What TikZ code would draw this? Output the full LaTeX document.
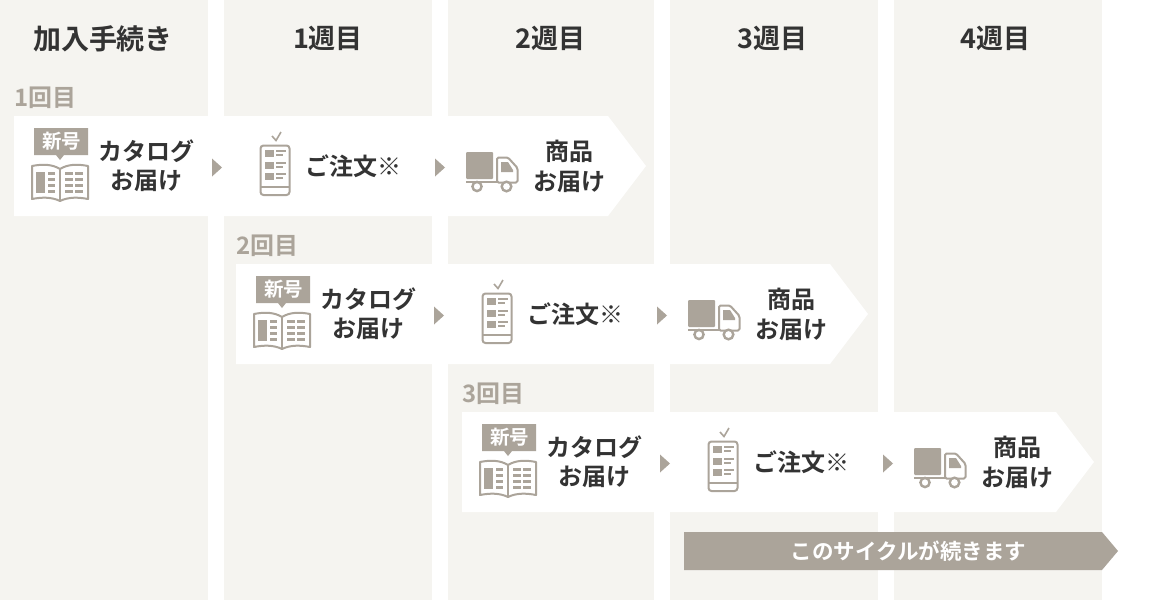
\documentclass[tikz,border=0pt]{standalone}
\usepackage{fontspec}
\setmainfont{Noto Sans CJK JP}[BoldFont={Noto Sans CJK JP Bold}]
\definecolor{colbg}{HTML}{F5F4F0}
\definecolor{taupe}{HTML}{ABA49A}
\definecolor{ink}{HTML}{333333}
\tikzset{
  x=1pt,y=-1pt,
  colhead/.style={font=\fontsize{27}{30}\selectfont\bfseries,text=ink,inner sep=0pt},
  lbl/.style={font=\fontsize{24}{30}\selectfont\bfseries,text=ink,inner sep=0pt,align=center},
  roundlbl/.style={font=\fontsize{24}{26}\selectfont\bfseries,text=taupe,inner sep=0pt},
  tagtext/.style={font=\fontsize{19.5}{20}\selectfont\bfseries,text=white,inner sep=0pt},
  icon/.style={draw=taupe,line width=2pt,fill=white},
  thin line/.style={draw=taupe,line width=2pt},
}
\tikzset{
  stage/.pic={
    % white arrow band, local origin = band left top
    \fill[white] (0,0) -- (594,0) -- (632,50) -- (594,100) -- (0,100) -- cycle;
    % tag
    \fill[taupe] (20,12) -- (74,12) -- (74,39) -- (50,39) -- (46,44) -- (42,39) -- (20,39) -- cycle;
    \node[tagtext] at (47.5,25.5) {新号};
    % book
    \draw[icon,line join=round] (46,53) .. controls (38,48) and (28,48) .. (18,50) -- (18,83) .. controls (28,81) and (38,81) .. (46,85)
       .. controls (54,81) and (64,81) .. (74,83) -- (74,50) .. controls (64,48) and (54,48) .. (46,53) -- cycle;
    \draw[thin line] (46,53) -- (46,85);
    \fill[taupe] (22,56) rectangle (31,77);
    \foreach \yy in {56,62,68,74}{\fill[taupe] (34,\yy) rectangle (41,\yy+2.6);}
    \foreach \yy in {56,62,68,74}{\fill[taupe] (51,\yy) rectangle (59,\yy+3.4);\fill[taupe] (61,\yy) rectangle (69,\yy+2.6);}
    \node[lbl] at (132,49.5) {カタログ\\[-0.5pt]お届け};
    % marker 1
    \fill[taupe] (198,42.5) -- (208,51.5) -- (198,60.5) -- cycle;
    % phone
    \draw[icon,rounded corners=3pt] (246.5,29.5) rectangle (275.5,79);
    \draw[thin line] (246.5,71) -- (275.5,71);
    \draw[draw=taupe,line width=1.6pt] (258,20) -- (262,24.5) -- (267,16);
    \foreach \yy in {34,45.5,57}{
      \fill[taupe] (251,\yy) rectangle (260,\yy+7);
      \fill[taupe] (262,\yy) rectangle (272,\yy+2);
      \fill[taupe] (262,\yy+4) rectangle (269,\yy+6);
    }
    \node[lbl,anchor=west] at (291,50.5) {ご注文\textmd{※}};
    % marker 2
    \fill[taupe] (421,42.5) -- (431,51.5) -- (421,60.5) -- cycle;
    % truck
    \fill[taupe,rounded corners=1pt] (452,36) rectangle (479,63);
    \fill[taupe] (452,64.5) rectangle (484,66.5);
    \draw[icon,line join=round,rounded corners=1.5pt] (483,66.5) -- (483,41.5) -- (494,41.5) -- (503.5,52) -- (503.5,66.5) -- cycle;
    \fill[taupe] (487,46) -- (494,46) -- (499,54) -- (499,56) -- (487,56) -- cycle;
    \draw[icon,line width=2.4pt] (463,70.5) circle (4.6);
    \draw[icon,line width=2.4pt] (492.5,70.5) circle (4.8);
    \node[lbl] at (555,50.5) {商品\\[-0.5pt]お届け};
  }
}
\begin{document}
\begin{tikzpicture}
\useasboundingbox (0,0) rectangle (1168,600);
\fill[white] (0,0) rectangle (1168,600);
\foreach \a/\b in {0/208,224/432,448/654,670/878,894/1102}{\fill[colbg] (\a,0) rectangle (\b,600);}
\node[colhead,font=\fontsize{28}{30}\selectfont\bfseries] (h0) at (103,38.5) {加入手続き};
\node[colhead] (h1) at (328,38.5) {1週目};
\node[colhead] (h2) at (550.5,38.5) {2週目};
\node[colhead] (h3) at (772.5,38.5) {3週目};
\node[colhead] (h4) at (995.5,38.5) {4週目};
\node[roundlbl,anchor=west] (r1) at (14,98) {1回目};
\node[roundlbl,anchor=west] (r2) at (236,246) {2回目};
\node[roundlbl,anchor=west] (r3) at (462,394) {3回目};
\pic at (14,116) {stage};
\pic at (236,264) {stage};
\pic at (462,412) {stage};
\fill[taupe] (684,532) -- (1102,532) -- (1118,551) -- (1102,570) -- (684,570) -- cycle;
\node[font=\fontsize{21.5}{24}\selectfont\bfseries,text=white,inner sep=0pt] (cyc) at (908.5,551.5) {このサイクルが続きます};
\end{tikzpicture}
\end{document}
